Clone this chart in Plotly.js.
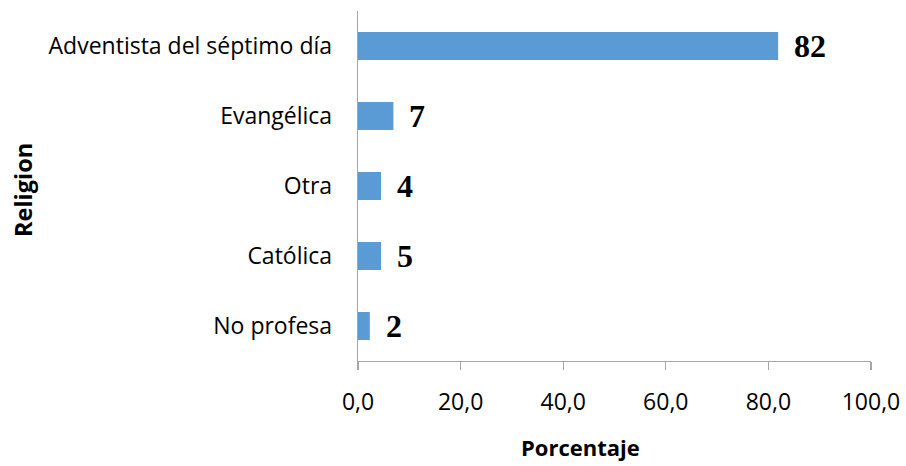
<!DOCTYPE html>
<html>
<head>
<meta charset="utf-8">
<script src="https://cdn.plot.ly/plotly-3.0.1.min.js"></script>
<style>body{margin:0;background:#fff}#chart{width:906px;height:466px}</style>
</head>
<body>
<div id="chart"></div>
<script>
const categories = ["No profesa", "Católica", "Otra", "Evangélica", "Adventista del séptimo día"];
const values = [2.3, 4.5, 4.5, 6.9, 81.9];
const valueLabels = ["2", "5", "4", "7", "82"];
const xTicks = [0, 20, 40, 60, 80, 100];

const trace = {
  type: "bar",
  orientation: "h",
  y: categories,
  x: values,
  marker: {color: "#5b9bd5", line: {width: 0}},
  hoverinfo: "none"
};

const annotations = categories.map((c, i) => ({
  x: values[i], y: c, xref: "x", yref: "y",
  text: valueLabels[i], showarrow: false,
  xanchor: "left", yanchor: "middle", xshift: 14,
  font: {family: "Liberation Serif, Times New Roman, serif", size: 32, color: "#000", weight: "bold"}
}));
annotations.push({
  xref: "paper", yref: "paper", x: 0.433, y: -0.246,
  xanchor: "center", yanchor: "middle", showarrow: false,
  text: "<b>Porcentaje</b>",
  font: {family: "Open Sans, sans-serif", size: 22, color: "#000"}
});
annotations.push({
  xref: "paper", yref: "paper", x: -0.654, y: 0.49,
  xanchor: "center", yanchor: "middle", showarrow: false,
  textangle: -90,
  text: "<b>Religion</b>",
  font: {family: "Open Sans, sans-serif", size: 23.5, color: "#000"}
});

const layout = {
  width: 906, height: 466,
  margin: {l: 358, r: 35, t: 11, b: 105},
  paper_bgcolor: "#fff", plot_bgcolor: "#fff",
  showlegend: false,
  bargap: 0.6,
  separators: ",.",
  xaxis: {
    range: [0, 100], tickvals: xTicks, tickformat: ".1f",
    showgrid: false, zeroline: false,
    showline: true, linecolor: "#a6a6a6", linewidth: 1.3,
    ticks: "outside", ticklen: 8, tickcolor: "#a6a6a6", tickwidth: 1.3,
    ticklabelstandoff: 12,
    tickfont: {family: "Open Sans, sans-serif", size: 23, color: "#000"},
    fixedrange: true
  },
  yaxis: {
    showgrid: false, zeroline: false,
    showline: true, linecolor: "#a6a6a6", linewidth: 1.3,
    ticks: "", ticklabelstandoff: 20,
    tickfont: {family: "Open Sans, sans-serif", size: 23, color: "#000"},
    automargin: false,
    fixedrange: true
  },
  annotations: annotations
};

Plotly.newPlot("chart", [trace], layout, {displayModeBar: false, staticPlot: true});
</script>
</body>
</html>
